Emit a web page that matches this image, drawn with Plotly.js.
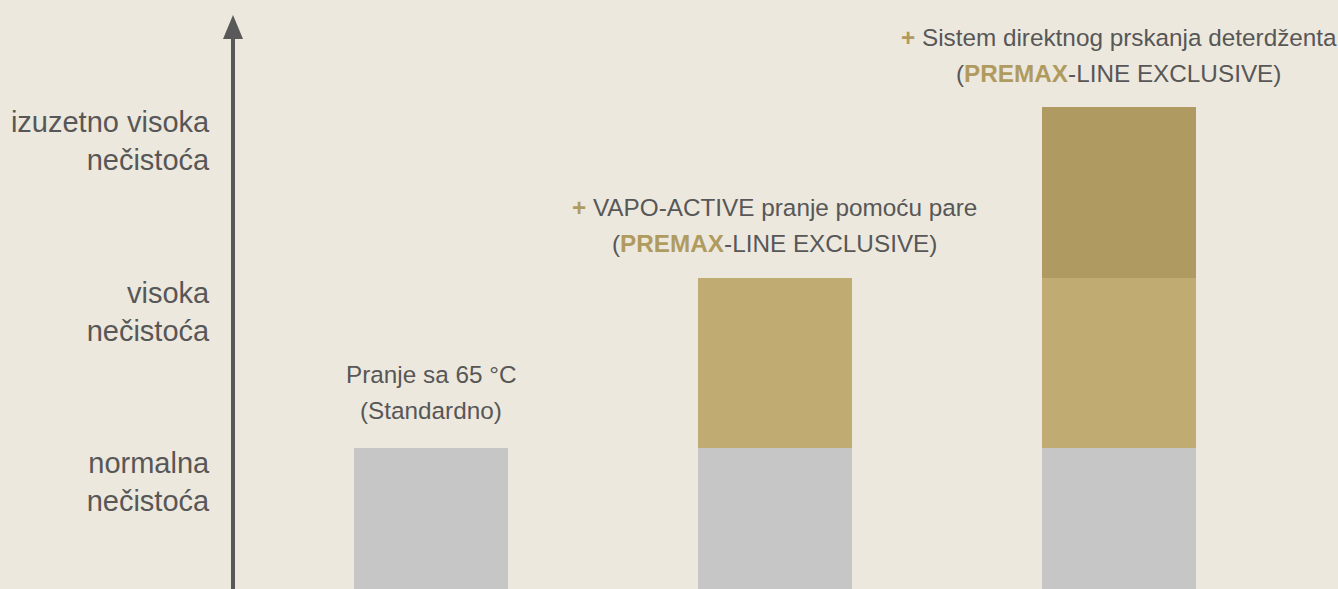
<!DOCTYPE html>
<html>
<head>
<meta charset="utf-8">
<script src="https://cdn.plot.ly/plotly-3.0.1.min.js"></script>
<style>
html,body{margin:0;padding:0;background:#EDE8DD;}
#chart{width:1338px;height:589px;}
</style>
</head>
<body>
<div id="chart"></div>
<script>
// ---- data ----
var categories = ['Standard', 'VapoActive', 'DirectSpray'];
var baseLevel   = [1, 1, 1];   // normalna nečistoća
var steamLevel  = [0, 1, 1];   // + VAPO-ACTIVE
var sprayLevel  = [0, 0, 1];   // + direktno prskanje
var tickValues  = [0.8, 1.8, 2.8];
var tickLabels  = ['normalna<br>nečistoća', 'visoka<br>nečistoća', 'izuzetno visoka<br>nečistoća'];
var labelLine1  = ['Pranje sa 65 °C',
                   '<b style="color:#B09B5F">+</b> VAPO-ACTIVE pranje pomoću pare',
                   '<b style="color:#B09B5F">+</b> Sistem direktnog prskanja deterdženta'];
var labelLine2  = ['(Standardno)',
                   '(<b style="color:#B09B5F">PREMAX</b>-LINE EXCLUSIVE)',
                   '(<b style="color:#B09B5F">PREMAX</b>-LINE EXCLUSIVE)'];

var FONT = '"Liberation Sans", Arial, sans-serif';
var TXT = '#575757';
var W = 0.448;

var traces = [
  {type:'bar', x:categories, y:baseLevel, width:W, marker:{color:'#C5C6C5'}, hoverinfo:'skip'},
  {type:'bar', x:categories, y:steamLevel, width:W, marker:{color:'#C0AC73'}, hoverinfo:'skip'},
  {type:'bar', x:categories, y:sprayLevel, width:W, marker:{color:'#AF9B62'}, hoverinfo:'skip'}
];

var annotations = [];
var extra = [4, 0, 0];
categories.forEach(function(c, i){
  var top = baseLevel[i] + steamLevel[i] + sprayLevel[i];
  annotations.push({x:c, y:top, xref:'x', yref:'y', text:labelLine1[i], showarrow:false,
    xanchor:'center', yanchor:'middle', yshift:70 + extra[i],
    font:{family:FONT, size:24.3, color:TXT}});
  annotations.push({x:c, y:top, xref:'x', yref:'y', text:labelLine2[i], showarrow:false,
    xanchor:'center', yanchor:'middle', yshift:34 + extra[i],
    font:{family:FONT, size:24.3, color:TXT}});
});

var hw = 10/1105;
var layout = {
  width:1338, height:589,
  margin:{l:233, r:0, t:0, b:0, pad:0},
  paper_bgcolor:'#EDE8DD', plot_bgcolor:'#EDE8DD',
  barmode:'stack', showlegend:false,
  bargap:0,
  xaxis:{type:'category', range:[-0.5756, 2.638], showticklabels:false, showgrid:false, zeroline:false, showline:false, fixedrange:true},
  yaxis:{range:[0.173, 3.628], tickvals:tickValues, ticktext:tickLabels,
    showgrid:false, zeroline:false, showline:false,
    ticks:'outside', ticklen:17, tickcolor:'rgba(0,0,0,0)',
    tickfont:{family:FONT, size:29, color:TXT}, fixedrange:true},
  annotations:annotations,
  shapes:[
    {type:'line', xref:'paper', yref:'paper', x0:0, x1:0, y0:-0.01, y1:0.94,
      line:{color:'#595959', width:4}},
    {type:'path', xref:'paper', yref:'paper',
      path:'M '+(-hw)+',0.9338 L 0,0.9745 L '+hw+',0.9338 Z',
      fillcolor:'#595959', line:{width:0}}
  ]
};

Plotly.newPlot('chart', traces, layout, {displayModeBar:false, staticPlot:true});
</script>
</body>
</html>
